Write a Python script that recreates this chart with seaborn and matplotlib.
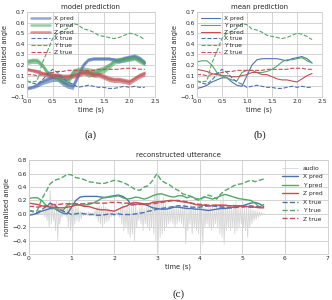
import seaborn as sns
import matplotlib.pyplot as plt
import pandas as pd
import numpy as np

# -------------------------------
# Values (0.1 s steps, 0.0 .. 5.5 s)
# -------------------------------
x_pred = [-0.02, -0.01, 0.01, 0.04, 0.06, 0.08, 0.08, 0.04, 0.01, 0.00,
          0.10, 0.20, 0.25, 0.26, 0.26, 0.26, 0.26, 0.25, 0.24, 0.26,
          0.27, 0.28, 0.26, 0.22, 0.13, 0.14, 0.15, 0.14, 0.12, 0.09,
          0.08, 0.07, 0.07, 0.08, 0.10, 0.10, 0.09, 0.08, 0.08, 0.07,
          0.07, 0.06, 0.05, 0.06, 0.07, 0.08, 0.08, 0.09, 0.10, 0.11,
          0.12, 0.14, 0.16, 0.17, 0.15, 0.11]
y_pred = [0.23, 0.24, 0.24, 0.20, 0.13, 0.10, 0.08, 0.06, 0.05, 0.13,
          0.15, 0.15, 0.13, 0.13, 0.14, 0.16, 0.19, 0.23, 0.25, 0.25,
          0.26, 0.27, 0.24, 0.22, 0.23, 0.25, 0.24, 0.22, 0.24, 0.27,
          0.29, 0.30, 0.28, 0.26, 0.25, 0.27, 0.27, 0.24, 0.26, 0.23,
          0.22, 0.25, 0.24, 0.22, 0.24, 0.27, 0.29, 0.27, 0.25, 0.23,
          0.22, 0.21, 0.20, 0.16, 0.10, 0.14]
z_pred = [0.16, 0.15, 0.14, 0.12, 0.11, 0.10, 0.10, 0.09, 0.09, 0.10,
          0.11, 0.13, 0.13, 0.11, 0.11, 0.09, 0.07, 0.06, 0.06, 0.05,
          0.04, 0.07, 0.10, 0.12, 0.16, 0.17, 0.16, 0.15, 0.15, 0.17,
          0.18, 0.18, 0.19, 0.20, 0.20, 0.19, 0.18, 0.17, 0.16, 0.14,
          0.13, 0.13, 0.12, 0.12, 0.13, 0.13, 0.13, 0.12, 0.12, 0.12,
          0.12, 0.11, 0.10, 0.10, 0.09, 0.09]
x_true = [0.05, 0.03, 0.02, 0.06, 0.11, 0.16, 0.13, 0.08, 0.04, 0.02,
          -0.01, 0.00, 0.01, 0.00, -0.01, -0.01, -0.02, -0.02, -0.01, 0.00,
          -0.01, 0.00, -0.01, -0.01, -0.01, 0.00, 0.01, 0.02, 0.04, 0.05,
          0.07, 0.08, 0.09, 0.10, 0.11, 0.12, 0.12, 0.11, 0.10, 0.10,
          0.10, 0.11, 0.12, 0.12, 0.11, 0.10, 0.10, 0.09, 0.09, 0.10,
          0.10, 0.11, 0.12, 0.11, 0.10, 0.10]
y_true = [0.05, 0.04, 0.05, 0.22, 0.33, 0.45, 0.50, 0.52, 0.55, 0.59,
          0.58, 0.54, 0.53, 0.51, 0.48, 0.47, 0.46, 0.45, 0.46, 0.48,
          0.50, 0.49, 0.47, 0.44, 0.40, 0.36, 0.35, 0.40, 0.42, 0.50,
          0.60, 0.50, 0.46, 0.43, 0.38, 0.35, 0.30, 0.28, 0.26, 0.22,
          0.20, 0.25, 0.28, 0.26, 0.22, 0.30, 0.35, 0.38, 0.42, 0.44,
          0.45, 0.48, 0.50, 0.48, 0.50, 0.52]
z_true = [0.11, 0.11, 0.10, 0.11, 0.12, 0.13, 0.14, 0.14, 0.15, 0.15,
          0.15, 0.15, 0.15, 0.15, 0.16, 0.16, 0.16, 0.16, 0.16, 0.17,
          0.17, 0.17, 0.16, 0.16, 0.15, 0.14, 0.14, 0.14, 0.15, 0.15,
          0.16, 0.17, 0.18, 0.19, 0.20, 0.20, 0.19, 0.18, 0.16, 0.15,
          0.14, 0.14, 0.13, 0.13, 0.13, 0.12, 0.12, 0.12, 0.12, 0.11,
          0.11, 0.11, 0.10, 0.10, 0.10, 0.10]

# ensemble spread for the "model prediction" panel (first 2.3 s)
x_spread = [0.015, 0.015, 0.02, 0.025, 0.03, 0.035, 0.035, 0.035, 0.03, 0.03,
            0.025, 0.02, 0.015, 0.015, 0.015, 0.015, 0.015, 0.02, 0.025, 0.025,
            0.025, 0.025, 0.025, 0.025]
y_spread = [0.025, 0.025, 0.025, 0.025, 0.025, 0.025, 0.03, 0.035, 0.035, 0.035,
            0.03, 0.035, 0.045, 0.035, 0.035, 0.035, 0.03, 0.025, 0.025, 0.025,
            0.025, 0.025, 0.025, 0.025]
z_spread = [0.015, 0.015, 0.02, 0.02, 0.025, 0.025, 0.025, 0.025, 0.025, 0.025,
            0.025, 0.025, 0.025, 0.025, 0.025, 0.025, 0.025, 0.025, 0.025, 0.025,
            0.025, 0.025, 0.025, 0.025]

# audio envelope (0.05 s steps, 0.0 .. 5.5 s)
audio_hi = [0, 0, 0, 0, 0, 0, 0, 0.05, 0.10, 0.12,
            0.35, 0.15, 0.05, 0.20, 0.05, 0.02, 0.02, 0.05, 0.15, 0.20,
            0.10, 0.08, 0.12, 0.10, 0.05, 0.03, 0.02, 0.02, 0.03, 0.02,
            0.02, 0.05, 0.10, 0.12, 0.10, 0.15, 0.10, 0.08, 0.05, 0.03,
            0.02, 0.02, 0.03, 0.10, 0.15, 0.10, 0.12, 0.15, 0.10, 0.20,
            0.15, 0.05, 0.10, 0.12, 0.08, 0.10, 0.15, 0.12, 0.20, 0.45,
            0.50, 0.30, 0.20, 0.25, 0.15, 0.10, 0.08, 0.10, 0.12, 0.10,
            0.08, 0.10, 0.12, 0.15, 0.10, 0.08, 0.15, 0.10, 0.10, 0.12,
            0.15, 0.12, 0.10, 0.08, 0.10, 0.12, 0.10, 0.08, 0.10, 0.15,
            0.20, 0.30, 0.15, 0.10, 0.12, 0.10, 0.15, 0.20, 0.12, 0.10,
            0.10, 0.08, 0.12, 0.10, 0.08, 0.06, 0.05, 0.04, 0.03, 0.02,
            0.0]
audio_lo = [0, 0, 0, 0, 0, 0, 0, -0.05, -0.10, -0.20,
            -0.15, -0.10, -0.25, -0.40, -0.15, -0.05, -0.03, -0.05, -0.20, -0.25,
            -0.30, -0.15, -0.10, -0.12, -0.08, -0.03, -0.02, -0.02, -0.03, -0.02,
            -0.03, -0.05, -0.12, -0.15, -0.20, -0.15, -0.12, -0.10, -0.05, -0.03,
            -0.02, -0.02, -0.05, -0.15, -0.25, -0.20, -0.30, -0.35, -0.30, -0.40,
            -0.20, -0.10, -0.15, -0.25, -0.15, -0.20, -0.25, -0.20, -0.30, -0.40,
            -0.58, -0.35, -0.30, -0.25, -0.20, -0.15, -0.12, -0.15, -0.20, -0.15,
            -0.12, -0.15, -0.20, -0.45, -0.25, -0.15, -0.30, -0.20, -0.25, -0.30,
            -0.35, -0.45, -0.20, -0.15, -0.20, -0.25, -0.20, -0.15, -0.20, -0.30,
            -0.35, -0.45, -0.25, -0.20, -0.25, -0.20, -0.30, -0.25, -0.20, -0.15,
            -0.20, -0.25, -0.35, -0.20, -0.15, -0.10, -0.08, -0.05, -0.03, -0.02,
            0.0]

t = np.arange(len(x_pred)) * 0.1
n_top = len(x_spread)

blue, green, red = "#4C72B0", "#55A868", "#C44E52"
series = [("X pred", x_pred, blue, "-"), ("Y pred", y_pred, green, "-"),
          ("Z pred", z_pred, red, "-"), ("X true", x_true, blue, "--"),
          ("Y true", y_true, green, "--"), ("Z true", z_true, red, "--")]
spreads = {"X pred": x_spread, "Y pred": y_spread, "Z pred": z_spread}

sns.set_style("whitegrid")
plt.rcParams["font.family"] = ["DejaVu Sans"]

fig = plt.figure(figsize=(3.32, 3.0), dpi=100)
ax_a = fig.add_axes([0.081, 0.677, 0.386, 0.283])
ax_b = fig.add_axes([0.593, 0.677, 0.377, 0.283])
ax_c = fig.add_axes([0.087, 0.153, 0.900, 0.313])

fs = 4.3


def style(ax, title):
    ax.set_title(title, fontsize=5, pad=2)
    ax.set_xlabel("time (s)", fontsize=4.8, labelpad=1.5)
    ax.set_ylabel("normalised angle", fontsize=4.8, labelpad=1.5)
    ax.tick_params(labelsize=fs, pad=1.5, length=0)
    for s in ax.spines.values():
        s.set_linewidth(0.6)
    ax.grid(linewidth=0.6)


# (a) and (b): first 2.3 s
for ax, banded in [(ax_a, True), (ax_b, False)]:
    for name, vals, col, ls in series:
        tt, vv = t[:n_top], np.array(vals[:n_top])
        if banded and name in spreads:
            sp = np.array(spreads[name])
            ax.fill_between(tt, vv - sp, vv + sp, color=col, alpha=0.6, lw=0)
            sns.lineplot(x=tt, y=vv, ax=ax, color=col, lw=1.8, label=name,
                         alpha=0.6)
        else:
            sns.lineplot(x=tt, y=vv, ax=ax, color=col, lw=0.8, linestyle=ls,
                         label=name)
    ax.set_xlim(0, 2.5)
    ax.set_ylim(-0.1, 0.7)
    ax.set_xticks(np.arange(0, 2.51, 0.5))
    ax.set_yticks(np.arange(-0.1, 0.71, 0.1))
    ax.legend(loc="upper left", fontsize=fs, frameon=False, handlelength=3.2,
              labelspacing=0.25, borderaxespad=0.3, handletextpad=0.6)
    style(ax, "model prediction" if banded else "mean prediction")

# (c): full utterance with audio
hi, lo = np.array(audio_hi), np.array(audio_lo)
ta = np.arange(len(hi)) * 0.05
wave_t = np.ravel(np.column_stack([ta, ta + 0.025]))
wave_v = np.ravel(np.column_stack([hi, lo]))
sns.lineplot(x=wave_t, y=wave_v, ax=ax_c, color="#d6d6d6", lw=0.6,
             label="audio", estimator=None, sort=False)
for name, vals, col, ls in series:
    sns.lineplot(x=t, y=vals, ax=ax_c, color=col, lw=1.0, linestyle=ls,
                 label=name)
ax_c.set_xlim(0, 7)
ax_c.set_ylim(-0.6, 0.8)
ax_c.set_yticks(np.arange(-0.6, 0.81, 0.2))
ax_c.legend(loc="upper right", fontsize=fs, frameon=False, handlelength=2.6,
            labelspacing=0.55, borderaxespad=0.5, handletextpad=0.8)
style(ax_c, "reconstructed utterance")

for x, y, s in [(0.274, 0.55, "(a)"), (0.782, 0.55, "(b)"),
                (0.537, 0.004, "(c)")]:
    fig.text(x, y, s, ha="center", va="bottom" if s == "(c)" else "center",
             fontsize=8, family="Liberation Serif")

plt.savefig("out.png", dpi=100)
plt.close()
